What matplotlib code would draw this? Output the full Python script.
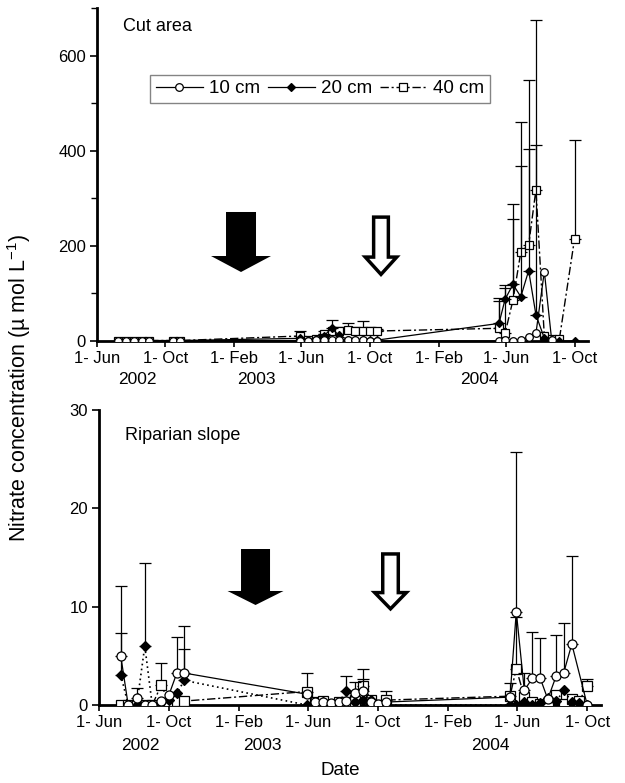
import numpy as np
import pandas as pd
import matplotlib
matplotlib.use("Agg")
import matplotlib.pyplot as plt
import matplotlib.transforms as mtransforms
from matplotlib.patches import FancyArrow

plt.rcParams['font.family'] = ['Liberation Sans', 'DejaVu Sans']
plt.rcParams['mathtext.fontset'] = 'custom'
plt.rcParams['mathtext.rm'] = 'Liberation Sans'
plt.rcParams['mathtext.default'] = 'regular'

nan = np.nan

# ---------------- data ----------------
dates_2002 = ['2002-07-09', '2002-07-22', '2002-08-06', '2002-08-20', '2002-09-02',
              '2002-09-18', '2002-10-01', '2002-10-15', '2002-10-28']
dates_2003 = ['2003-05-30', '2003-06-13', '2003-06-27', '2003-07-11', '2003-07-25',
              '2003-08-07', '2003-08-23', '2003-09-05', '2003-09-20', '2003-10-02', '2003-10-15']
dates_2004 = ['2004-05-19', '2004-05-30', '2004-06-13', '2004-06-27', '2004-07-11',
              '2004-07-24', '2004-08-08', '2004-08-21', '2004-09-04', '2004-09-17', '2004-10-01']
sample_dates = pd.to_datetime(dates_2002 + dates_2003 + dates_2004)

# Cut area (umol/L): means and upper SD
cut_10 = [0.5, 0.5, 0.5, 0.5, 0.5, nan, nan, 0.5, 0.5,
          1, 1, 2, 2, 2, 3, 3, 2, 2, 1, 0,
          0, 2, 0, 2, 8, 16, 146, 3, nan, nan, nan]
cut_10_sd = [nan] * 31
cut_20 = [1, 1, 1, 1, 1, nan, nan, 1, 1,
          5.6, 2, 5, 10.5, 26.7, 12, 3, 3, 3, 2, 2,
          37, 88, 119, 93, 148, 55, 6, 0, 0, nan, 0]
cut_20_sd = [nan, nan, nan, nan, nan, nan, nan, nan, nan,
             nan, nan, nan, 5, 17, nan, nan, nan, nan, nan, nan,
             53, 30, 137, 274, 255, 357, nan, nan, nan, nan, nan]
cut_40 = [1, 1, 1, 1, 1, nan, nan, 1, 1,
          10.5, 3, 5, 15, 20, 21, 23, 20, 22, 21, 21,
          26.7, 16.8, 86, 187, 202, 318, 10, 5, 5, nan, 215]
cut_40_sd = [nan, nan, nan, nan, nan, nan, nan, nan, nan,
             10.5, nan, nan, 5, nan, 9, 14, 10, 21, 9, 5,
             58, 94, 202, 273, 347, 356, nan, nan, nan, nan, 207]

# Riparian slope
rip_10 = [5.0, 0, 0.7, 0, 0, 0.4, 1.0, 3.25, 3.25,
          1.1, 0.3, 0.3, 0.2, 0.3, 0.4, 1.2, 1.4, 0.3, 0.1, 0.3,
          0.8, 9.5, 1.5, 2.7, 2.7, 0.6, 3.0, 3.3, 6.2, nan, 0]
rip_10_sd = [7.1, nan, 1.0, nan, nan, nan, nan, 3.65, 4.75,
             nan, nan, nan, nan, nan, nan, 1.1, 1.2, nan, nan, nan,
             nan, 16.2, 1.8, 4.7, 4.1, nan, 4.1, 5.0, 9.0, nan, nan]
rip_20 = [3.1, 0, 0, 6.0, 0, 0.35, 0.5, 1.2, 2.5,
          0, 0.2, 0.3, 0.1, 0.2, 1.47, 0.3, 0.5, 0.5, 0, 0,
          0, 0, 0.3, 0, 0.2, 0.75, 0.4, 1.5, 0.3, 0.2, 0]
rip_20_sd = [4.2, nan, nan, 8.4, nan, nan, nan, nan, 3.2,
             nan, nan, nan, nan, nan, 1.5, nan, nan, nan, nan, nan,
             nan, nan, nan, nan, nan, nan, nan, nan, nan, nan, nan]
rip_40 = [0, 0, 0, 0, 0, 2.05, 0.2, 0.4, 0.4,
          1.37, 0.35, 0.4, 0, 0.3, 0.3, 0.4, 1.95, 0.5, 0, 0.5,
          0.9, 3.7, 0.85, 0.35, 0.15, 0.15, 1.0, 0.1, 0.6, 0.4, 1.95]
rip_40_sd = [nan, nan, nan, nan, nan, 2.25, nan, nan, nan,
             1.9, nan, nan, nan, nan, nan, nan, 1.75, nan, nan, 0.9,
             1.3, 5.2, nan, nan, nan, nan, nan, nan, nan, nan, 0.65]

series_labels = ['10 cm', '20 cm', '40 cm']
tick_dates = ['2002-06-01', '2002-10-01', '2003-02-01', '2003-06-01',
              '2003-10-01', '2004-02-01', '2004-06-01', '2004-10-01']
tick_labels = ['1- Jun', '1- Oct', '1- Feb', '1- Jun', '1- Oct', '1- Feb', '1- Jun', '1- Oct']
year_labels = ['2002', '2003', '2004']
year_pos = ['2002-08-12', '2003-03-13', '2004-04-14']
x_range = ['2002-06-01', '2004-10-25']

# ---------------- figure ----------------
fig = plt.figure(figsize=(6.25, 7.83), dpi=100)
ax_top = fig.add_axes([0.1552, 0.5645, 0.7856, 0.4253])
ax_bot = fig.add_axes([0.1584, 0.0996, 0.8032, 0.3768])

styles_top = [
    dict(marker='o', mfc='white', mec='black', ms=5.5, ls='-', color='black', lw=0.9),
    dict(marker='D', mfc='black', mec='black', ms=4.2, ls='-', color='black', lw=0.9),
    dict(marker='s', mfc='white', mec='black', ms=5.5, ls=(0, (6, 2, 1.5, 2)), color='black', lw=1.0),
]
styles_bot = [
    dict(marker='o', mfc='white', mec='black', ms=6.5, ls='-', color='black', lw=0.9),
    dict(marker='D', mfc='black', mec='black', ms=5.0, ls=(0, (1, 2)), color='black', lw=1.2),
    dict(marker='s', mfc='white', mec='black', ms=6.5, ls=(0, (6, 2, 1.5, 2)), color='black', lw=1.0),
]


def draw(ax, vals, sds, style, label, z):
    v = np.array(vals, dtype=float)
    s = np.array(sds, dtype=float)
    m = ~np.isnan(v)
    x = sample_dates[m]
    ax.plot(x, v[m], label=label, zorder=z, mew=0.9, **style)
    me = m & ~np.isnan(s)
    if me.any():
        ax.errorbar(sample_dates[me], v[me], yerr=[np.zeros(me.sum()), s[me]],
                    fmt='none', ecolor='black', elinewidth=0.9, capsize=4,
                    capthick=0.9, zorder=z - 0.5)


for vals, sds, st, lab, z in zip([cut_10, cut_20, cut_40], [cut_10_sd, cut_20_sd, cut_40_sd],
                                 styles_top, series_labels, [5, 4, 3]):
    draw(ax_top, vals, sds, st, lab, z)
for vals, sds, st, lab, z in zip([rip_10, rip_20, rip_40], [rip_10_sd, rip_20_sd, rip_40_sd],
                                 styles_bot, series_labels, [5, 4, 3]):
    draw(ax_bot, vals, sds, st, lab, z)

xlim = pd.to_datetime(x_range)
for ax, ylim, major, minor, ypad, dx in [
        (ax_top, (0, 700), [0, 200, 400, 600], [100, 300, 500, 700], -0.117, 0.09),
        (ax_bot, (0, 30), [0, 10, 20, 30], [], -0.136, 0.05)]:
    offset = mtransforms.ScaledTranslation(dx, 0, fig.dpi_scale_trans)
    ax.set_xlim(xlim)
    ax.set_ylim(*ylim)
    ax.set_yticks(major)
    ax.set_yticks(minor, minor=True)
    ax.set_xticks(pd.to_datetime(tick_dates))
    ax.set_xticklabels(tick_labels)
    for lbl in ax.get_xticklabels():
        lbl.set_transform(lbl.get_transform() + offset)
    for side in ['top', 'right']:
        ax.spines[side].set_visible(False)
    for side in ['left', 'bottom']:
        ax.spines[side].set_linewidth(2.0)
    ax.tick_params(axis='both', which='major', labelsize=12, length=5, width=1.2,
                   direction='out', pad=3)
    ax.tick_params(axis='y', which='minor', length=4, width=1.0, direction='out')
    ax.tick_params(axis='x', which='major', length=4)
    tr = mtransforms.blended_transform_factory(ax.transData, ax.transAxes)
    for yl, yp in zip(year_labels, pd.to_datetime(year_pos)):
        ax.text(yp, ypad, yl, transform=tr, ha='center', va='center', fontsize=12.5)

ax_top.text(0.053, 0.943, 'Cut area', transform=ax_top.transAxes, fontsize=13,
            ha='left', va='center')
ax_bot.text(0.052, 0.915, 'Riparian slope', transform=ax_bot.transAxes, fontsize=13,
            ha='left', va='center')

leg = ax_top.legend(loc='upper left', bbox_to_anchor=(0.108, 0.80), ncol=3, fontsize=13.5,
                    frameon=True, fancybox=False, edgecolor='#666666', numpoints=1,
                    handlelength=2.5, handletextpad=0.35, columnspacing=0.4,
                    borderpad=0.3, borderaxespad=0)
leg.get_frame().set_linewidth(1.0)

# treatment arrows (axes-fraction coordinates)
def arrow(ax, xc, ytop, ytip, w, hw, hl, filled):
    a = FancyArrow(xc, ytop, 0, ytip - ytop, width=w, head_width=hw, head_length=hl,
                   length_includes_head=True, transform=ax.transAxes,
                   facecolor='black' if filled else 'white', edgecolor='black',
                   linewidth=0 if filled else 2.5, joinstyle='miter', clip_on=False, zorder=6)
    ax.add_patch(a)

arrow(ax_top, 0.2933, 0.3874, 0.2072, 0.0611, 0.1222, 0.048, True)
arrow(ax_top, 0.5784, 0.372, 0.200, 0.0300, 0.0640, 0.052, False)
arrow(ax_bot, 0.3118, 0.5288, 0.339, 0.0578, 0.1116, 0.0475, True)
arrow(ax_bot, 0.5807, 0.512, 0.326, 0.0310, 0.0630, 0.055, False)

fig.text(0.031, 0.505, 'Nitrate concentration (µ mol L$^{-1}$)', rotation=90,
         ha='center', va='center', fontsize=15.5)
fig.text(0.544, 0.0166, 'Date', ha='center', va='center', fontsize=13.5)

fig.savefig('out.png', dpi=100)
